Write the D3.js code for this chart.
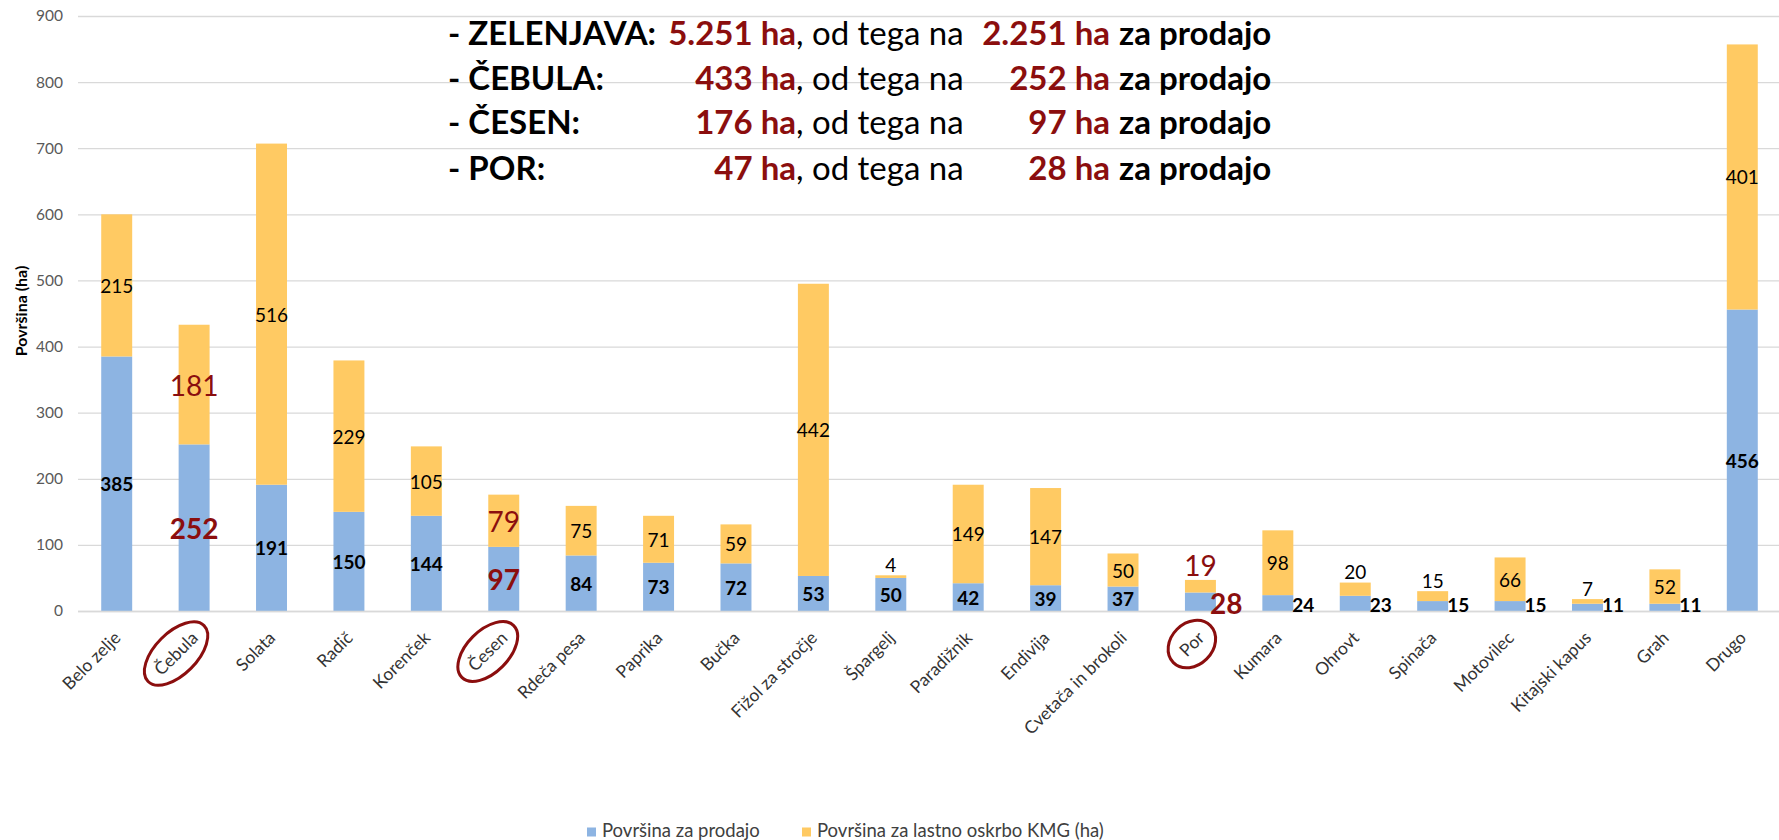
<!DOCTYPE html>
<html>
<head>
<meta charset="utf-8">
<script src="https://cdn.jsdelivr.net/npm/d3@7"></script>
<style>
  body { margin: 0; background: #fff; }
  svg text { font-family: Lato, "Open Sans", sans-serif; }
</style>
</head>
<body>
<div id="chart"></div>
<script>
var categories = ['Belo zelje', 'Čebula', 'Solata', 'Radič', 'Korenček', 'Česen', 'Rdeča pesa',
  'Paprika', 'Bučka', 'Fižol za stročje', 'Špargelj', 'Paradižnik', 'Endivija',
  'Cvetača in brokoli', 'Por', 'Kumara', 'Ohrovt', 'Spinača', 'Motovilec',
  'Kitajski kapus', 'Grah', 'Drugo'];
var saleArea = [385, 252, 191, 150, 144, 97, 84, 73, 72, 53, 50, 42, 39, 37, 28, 24, 23, 15, 15, 11, 11, 456];
var ownUseArea = [215, 181, 516, 229, 105, 79, 75, 71, 59, 442, 4, 149, 147, 50, 19, 98, 20, 15, 66, 7, 52, 401];
var highlighted = ['Čebula', 'Česen', 'Por'];
var yTicks = [0, 100, 200, 300, 400, 500, 600, 700, 800, 900];
var seriesNames = ['Površina za prodajo', 'Površina za lastno oskrbo KMG (ha)'];
var yTitle = 'Površina (ha)';

var noteLabels = ['- ZELENJAVA:', '- ČEBULA:', '- ČESEN:', '- POR:'];
var noteTotals = ['5.251 ha', '433 ha', '176 ha', '47 ha'];
var noteSales = ['2.251 ha', '252 ha', '97 ha', '28 ha'];

var W = 1779, H = 840;
var blue = '#8db4e2', orange = '#ffca63', red = '#8b0e0e', grid = '#d9d9d9';

var svg = d3.select('#chart').append('svg')
  .attr('width', W)
  .attr('height', H);

var x = d3.scaleBand()
  .domain(categories)
  .range([78, 1781])
  .paddingInner(0.6)
  .paddingOuter(0.3);

var y = d3.scaleLinear()
  .domain([0, 900])
  .range([611, 16]);

// gridlines + y labels
var gy = svg.append('g')
  .attr('transform', 'translate(78,0)')
  .call(d3.axisLeft(y).tickValues(yTicks).tickSize(-1703).tickPadding(15));
gy.select('.domain').remove();
gy.selectAll('line').attr('stroke', grid).attr('stroke-width', 1.3);
gy.selectAll('text').attr('fill', '#595959').style('font-size', '15.5px');

svg.append('text')
  .attr('transform', 'translate(20,' + 311 + ') rotate(-90)')
  .attr('text-anchor', 'middle')
  .attr('dominant-baseline', 'central')
  .style('font-size', '16px')
  .style('font-weight', 'bold')
  .text(yTitle);

var rows = categories.map(function(c, i) {
  return { cat: c, sale: saleArea[i], own: ownUseArea[i], hi: highlighted.indexOf(c) >= 0 };
});

var bw = x.bandwidth();

svg.selectAll('.bar-sale')
  .data(rows)
  .enter().append('rect')
  .attr('class', 'bar-sale')
  .attr('x', (d) => x(d.cat))
  .attr('width', bw)
  .attr('y', (d) => y(d.sale))
  .attr('height', (d) => y(0) - y(d.sale))
  .attr('fill', blue);

svg.selectAll('.bar-own')
  .data(rows)
  .enter().append('rect')
  .attr('class', 'bar-own')
  .attr('x', (d) => x(d.cat))
  .attr('width', bw)
  .attr('y', (d) => y(d.sale + d.own))
  .attr('height', (d) => y(d.sale) - y(d.sale + d.own))
  .attr('fill', orange);

// x axis
var gx = svg.append('g')
  .attr('transform', 'translate(0,' + y(0) + ')')
  .call(d3.axisBottom(x).tickSize(0));
gx.select('.domain').attr('stroke', grid).attr('stroke-width', 1.3)
  .attr('d', 'M78,0.5H' + W);
gx.selectAll('text')
  .attr('x', 0).attr('y', 0).attr('dy', 0)
  .attr('transform', 'translate(5,28) rotate(-45)')
  .style('text-anchor', 'end')
  .style('font-size', '17.5px')
  .attr('fill', '#333');

// circles around highlighted category labels
gx.selectAll('.tick').each(function(c) {
  if (highlighted.indexOf(c) < 0) return;
  var t = d3.select(this).select('text');
  var len = t.node().getComputedTextLength();
  var half = len / 2;
  d3.select(this).append('ellipse')
    .attr('transform', 'translate(5,28) rotate(-45) translate(' + (-half) + ',-6)')
    .attr('rx', half + 13)
    .attr('ry', 21)
    .attr('fill', 'none')
    .attr('stroke', red)
    .attr('stroke-width', 3);
});

// data labels
var cx = (d) => x(d.cat) + bw / 2;

svg.selectAll('.lab-sale')
  .data(rows)
  .enter().append('text')
  .attr('class', 'lab-sale')
  .attr('dominant-baseline', 'central')
  .style('font-weight', 'bold')
  .style('font-size', (d) => d.hi ? '28px' : '19px')
  .attr('fill', (d) => d.hi ? red : '#000')
  .attr('text-anchor', (d) => d.sale < 30 ? 'start' : 'middle')
  .attr('x', (d) => d.sale < 30 ? x(d.cat) + bw - (d.hi ? 6 : 1) : cx(d))
  .attr('y', (d) => d.sale < 30 ? y(0) - (d.hi ? 8 : 7) : y(d.sale / 2))
  .text((d) => d.sale);

svg.selectAll('.lab-own')
  .data(rows)
  .enter().append('text')
  .attr('class', 'lab-own')
  .attr('dominant-baseline', 'central')
  .attr('text-anchor', 'middle')
  .style('font-size', (d) => d.hi ? '28px' : '19px')
  .attr('fill', (d) => d.hi ? red : '#000')
  .attr('x', cx)
  .attr('y', function(d) {
    if (d.own < 30) return y(d.sale + d.own) - (d.hi ? 15 : 11);
    return y(d.sale + d.own / 2);
  })
  .text((d) => d.own);

// summary note
var note = svg.append('g').style('font-size', '33px');
var lineY = [32, 76.5, 121, 166.5];
noteLabels.forEach(function(lab, i) {
  var yy = lineY[i];
  note.append('text').attr('x', 448).attr('y', yy)
    .attr('dominant-baseline', 'central').style('font-weight', 'bold').text(lab);
  note.append('text').attr('x', 796).attr('y', yy).attr('text-anchor', 'end')
    .attr('dominant-baseline', 'central').style('font-weight', 'bold').attr('fill', red)
    .text(noteTotals[i]);
  note.append('text').attr('x', 796).attr('y', yy)
    .attr('dominant-baseline', 'central').text(', od tega na');
  note.append('text').attr('x', 1110).attr('y', yy).attr('text-anchor', 'end')
    .attr('dominant-baseline', 'central').style('font-weight', 'bold').attr('fill', red)
    .text(noteSales[i]);
  note.append('text').attr('x', 1119).attr('y', yy)
    .attr('dominant-baseline', 'central').style('font-weight', 'bold').text('za prodajo');
});

// legend
var legend = svg.append('g');
[[587, blue], [802, orange]].forEach(function(p, i) {
  legend.append('rect').attr('x', p[0]).attr('y', 827.5).attr('width', 9).attr('height', 9).attr('fill', p[1]);
  legend.append('text').attr('x', p[0] + 15).attr('y', 837)
    .style('font-size', '18.5px').attr('fill', '#404040').text(seriesNames[i]);
});
</script>
</body>
</html>
